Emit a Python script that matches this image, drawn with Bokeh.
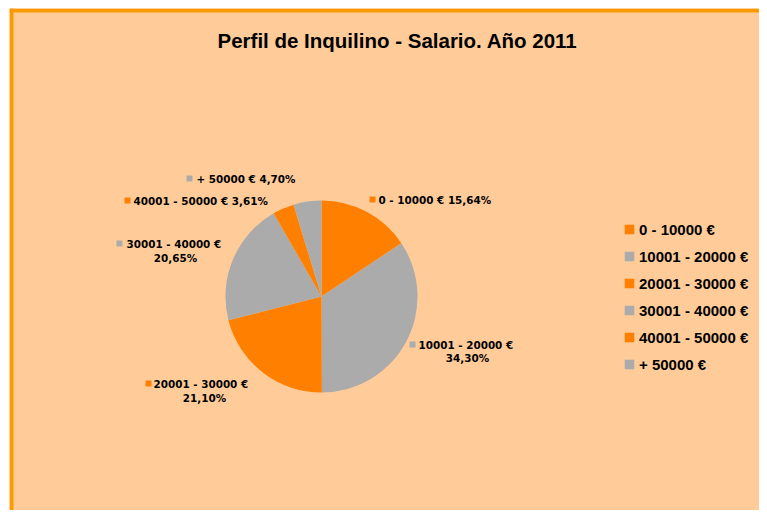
import math
from bokeh.plotting import figure
from bokeh.models import Range1d, Span, Legend, LegendItem, ColumnDataSource, Label
from bokeh.core.properties import value
from bokeh.embed import file_html
from bokeh.resources import INLINE

# ---------------- data ----------------
title_text = "Perfil de Inquilino - Salario. Año 2011"
categories = ["0 - 10000 €", "10001 - 20000 €", "20001 - 30000 €",
              "30001 - 40000 €", "40001 - 50000 €", "+ 50000 €"]
percents = [15.64, 34.30, 21.10, 20.65, 3.61, 4.70]

# ---------------- style / layout ----------------
W, H = 759, 510
ML, MT = 9, 8          # white margin inside the canvas (left, top)
ORANGE = "#FF8000"
GRAY = "#ABABAB"
slice_colors = [ORANGE, GRAY, ORANGE, GRAY, ORANGE, GRAY]
BG = "#FFCC99"
BORDER = "#FF9900"


def px(x):  # page x -> data x
    return x


def py(y):  # page y -> data y
    return 518 - y


cx, cy, R = px(321), py(296), 96

total = sum(percents)
starts, ends = [], []
cum = 0.0
for v in percents:
    a0 = math.pi / 2 - 2 * math.pi * (cum + v) / total
    a1 = math.pi / 2 - 2 * math.pi * cum / total
    starts.append(a0)
    ends.append(a1)
    cum += v

p = figure(width=W, height=H, x_range=Range1d(ML, W), y_range=Range1d(518 - H, 518 - MT),
           output_backend="svg", toolbar_location=None, min_border=0,
           min_border_left=ML, min_border_top=MT,
           x_axis_location=None, y_axis_location=None)
p.grid.visible = False
p.outline_line_color = None
p.background_fill_color = BG
p.border_fill_color = "#FFFFFF"

src = ColumnDataSource(dict(cat=categories, start=starts, end=ends, color=slice_colors))
r = p.wedge(x=cx, y=cy, radius=R, start_angle="start", end_angle="end",
            fill_color="color", line_color=None, source=src)


def fmt(v):
    return ("%.2f" % v).replace(".", ",") + "%"


# layout: (marker page x, text start page x, line1 page y, two-line?, line2 center page x, line2 page y)
label_layout = [
    (372, 378, 199, False, None, None),
    (412, 418, 344, True, 467, 357),
    (148, 153, 383, True, 204, 397),
    (119, 126, 243, True, 175, 257),
    (127, 133, 200, False, None, None),
    (189, 196, 178, False, None, None),
]

l1x, l1y, l1t, l2x, l2y, l2t, mx, my, mc = [], [], [], [], [], [], [], [], []
for i, (mxp, tx, ty, two, cx2, ty2) in enumerate(label_layout):
    mx.append(px(mxp)); my.append(py(ty)); mc.append(slice_colors[i])
    if two:
        l1x.append(px(tx)); l1y.append(py(ty)); l1t.append(categories[i])
        l2x.append(px(cx2)); l2y.append(py(ty2)); l2t.append(fmt(percents[i]))
    else:
        l1x.append(px(tx)); l1y.append(py(ty)); l1t.append(categories[i] + " " + fmt(percents[i]))

p.scatter(x=mx, y=my, marker="square", size=6, fill_color=mc, line_color=None)
p.text(x=l1x, y=l1y, text=l1t, text_font=value("DejaVu Sans"), text_font_style="bold",
       text_font_size="10.4px", text_baseline="middle", text_align="left", text_color="#000000")
p.text(x=l2x, y=l2y, text=l2t, text_font=value("DejaVu Sans"), text_font_style="bold",
       text_font_size="10.4px", text_baseline="middle", text_align="center", text_color="#000000")

# title
p.add_layout(Label(x=px(397), y=py(40), text=title_text, text_align="center",
                   text_baseline="middle", text_font="Liberation Sans",
                   text_font_style="bold", text_font_size="20.5px", text_color="#000000"))

# legend
legend = Legend(items=[LegendItem(label=c, renderers=[r], index=i) for i, c in enumerate(categories)],
                location=(623 - ML, 136), orientation="vertical",
                border_line_color=None, background_fill_alpha=0,
                padding=0, margin=0, spacing=7, label_height=20,
                glyph_width=12, glyph_height=12, label_standoff=4,
                label_text_font="Liberation Sans", label_text_font_style="bold",
                label_text_font_size="15px", label_text_color="#000000")
p.add_layout(legend)

# frame border (top and left visible)
p.add_layout(Span(location=ML + 2, dimension="height", line_color=BORDER, line_width=4))
p.add_layout(Span(location=518 - MT - 2, dimension="width", line_color=BORDER, line_width=4))

open("out.html", "w").write(file_html(p, INLINE))
